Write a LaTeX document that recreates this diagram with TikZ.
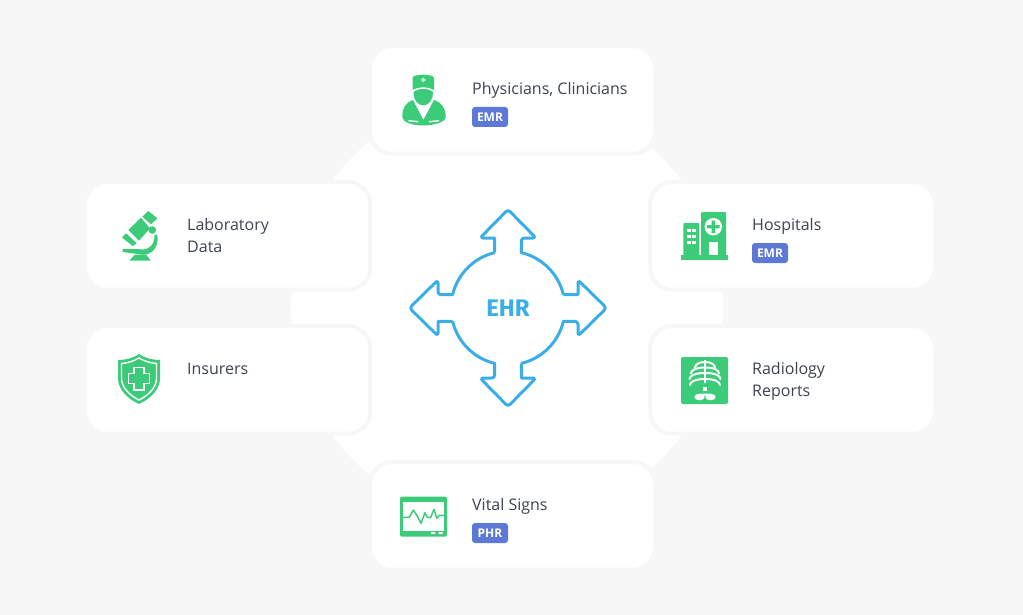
\documentclass[tikz,border=0pt]{standalone}
\usepackage{fontspec}
\setmainfont{Open Sans}
\newfontfamily\ehrfont{Fira Sans}
\definecolor{pagebg}{HTML}{F7F7F7}
\definecolor{ehrblue}{HTML}{3BAEE8}
\definecolor{icongreen}{HTML}{3CCB78}
\definecolor{badgeblue}{HTML}{5E78D6}
\definecolor{inktext}{HTML}{3D4450}

\begin{document}
\begin{tikzpicture}[x=1pt,y=-1pt,
      card/.style={draw=pagebg,fill=white,line width=4pt,rounded corners=22pt,minimum width=285pt,minimum height=107.7pt,inner sep=0pt},
      cardtext/.style={anchor=base west,inner sep=0pt,text=inktext,font=\fontsize{16}{22}\selectfont},
      badge/.style={fill=badgeblue,rounded corners=3pt,minimum width=36pt,minimum height=20pt,inner sep=0pt,text=white,font=\fontsize{12}{14}\bfseries\selectfont},
      ehrline/.style={draw=ehrblue,line width=3pt,line join=round},
      icon/.style={fill=icongreen},
      gap/.style={fill=white},
      gapline/.style={draw=white,line width=1.4pt},
      ribline/.style={draw=white,line width=2pt,line cap=round},
      pulse/.style={draw=icongreen,line width=1.5pt,line join=round}]
    \useasboundingbox (0,0) rectangle (1023,615);
    \fill[pagebg] (0,0) rectangle (1023,615);
    \fill[white] (507,308) circle (216pt);

    % cards
    \node[card] (physicians) at (512.5,99.85) {};
    \node[card] (vitals)     at (512.5,515.85) {};
    \node[card] (laboratory) at (227.5,235.85) {};
    \node[card] (insurers)   at (227.5,379.85) {};
    \node[card] (hospitals)  at (792.5,235.85) {};
    \node[card] (radiology)  at (792.5,379.85) {};

    % card texts
    \node[cardtext] (physicianstext) at (472,94.6) {Physicians, Clinicians};
    \node[cardtext] (vitalstext)     at (472,510) {Vital Signs};
    \node[cardtext] (labtext)        at (187,230) {Laboratory};
    \node[cardtext] (labtexttwo)     at (187,252) {Data};
    \node[cardtext] (insurerstext)   at (187,374) {Insurers};
    \node[cardtext] (hospitalstext)  at (752,230) {Hospitals};
    \node[cardtext] (radiologytext)  at (752,374) {Radiology};
    \node[cardtext] (reportstext)    at (752,396) {Reports};

    % badges
    \node[badge] (physiciansbadge) at (490,117) {EMR};
    \node[badge] (hospitalsbadge)  at (770,253) {EMR};
    \node[badge] (vitalsbadge)     at (490,533) {PHR};

    % centre arrows, one quarter per turn
    \begin{scope}[shift={(508,308)}]
      \foreach \ang in {0,90,180,270} {
        \draw[ehrline,rotate=\ang] (-13.3,-55.4) -- (-13.3,-70) [rounded corners=3pt] -- (-28,-70) -- (0,-98.5) -- (28,-70) -- (13.3,-70) [sharp corners] -- (13.3,-55.4) .. controls (34.1,-50.4) and (50.4,-34.1) .. (55.4,-13.3);
      }
    \end{scope}
    \node[text=ehrblue,inner sep=0pt,font=\ehrfont\fontsize{24}{26}\bfseries\selectfont] (ehr) at (508,308.5) {EHR};

    % doctor
    \fill[icon] (412.5,90) -- (412.5,78.5) .. controls (412.5,76) and (415,75) .. (423.3,74.7) .. controls (431,75) and (434,76) .. (434,78.5) -- (434,90) .. controls (428,86.5) and (418,86.5) .. (412.5,90) -- cycle;
    \fill[icon] (413.5,92) .. controls (418,88) and (429,88) .. (433,92) .. controls (433.5,99) and (429,105.5) .. (423.3,105.5) .. controls (417.5,105.5) and (413,99) .. (413.5,92) -- cycle;
    \fill[icon] (413,100) -- (423.3,120) -- (434,100) .. controls (441,102) and (445.7,108) .. (445.7,117) .. controls (445.7,122) and (434,125.5) .. (423.3,125.5) .. controls (412,125.5) and (402.3,122) .. (402.3,117) .. controls (402.3,108) and (406,102) .. (413,100) -- cycle;
    \fill[gap] (421.1,79.3) rectangle (425.5,80.7) (422.6,77.8) rectangle (424,82.2);
    \draw[gapline] (408.5,120.7) -- (418,121.7) (429,121.7) -- (439,120.7);

    % microscope
    \fill[icon] (148.3,211) -- (157.3,218.3) -- (151,224.3) -- (142.3,216.7) -- cycle;
    \fill[icon] (141,217.7) -- (150,228.3) -- (139,240.7) -- (128.3,230) -- cycle;
    \fill[icon] (126,233.3) -- (136.7,243.3) -- (132.7,246) -- (122,237.3) -- cycle;
    \fill[icon] (152.3,230) circle (3.8pt);
    \fill[icon] (154.5,235) -- (157,234.5) .. controls (159,242) and (156,251) .. (148,254) .. controls (146,254.8) and (142,254.8) .. (138,254) -- (122.7,252) -- (122.7,249) -- (138,249) .. controls (146,251) and (155,247) .. (154.5,235) -- cycle;
    \fill[icon] (129.3,260.7) -- (135,254.5) -- (146,254.5) -- (150.7,260.7) -- cycle;

    % shield
    \fill[icon] (139,354) .. controls (145,358) and (152,360) .. (160,360) -- (160,378) .. controls (160,390) and (150,399) .. (139,404) .. controls (128,399) and (118,390) .. (118,378) -- (118,360) .. controls (126,360) and (133,358) .. (139,354) -- cycle;
    \draw[gapline] (139,358) .. controls (144,361) and (150,363) .. (156.5,363.5) -- (156.5,378) .. controls (156.5,388) and (148,395.5) .. (139,400) .. controls (130,395.5) and (121.5,388) .. (121.5,378) -- (121.5,363.5) .. controls (128,363) and (134,361) .. (139,358) -- cycle;
    \draw[gapline] (134,367.5) -- (144,367.5) -- (144,373.5) -- (149.5,373.5) -- (149.5,383.5) -- (144,383.5) -- (144,390) -- (134,390) -- (134,383.5) -- (128.5,383.5) -- (128.5,373.5) -- (134,373.5) -- cycle;

    % hospital
    \fill[icon] (681,255) rectangle (728,260);
    \fill[icon,rounded corners=1pt] (683.3,255.5) -- (683.3,223) -- (699.3,223) -- (699.3,255.5) -- cycle;
    \fill[icon,rounded corners=1pt] (701,255.5) -- (701,212) -- (726,212) -- (726,255.5) -- cycle;
    \fill[gap] (713.3,226.7) circle (8.7pt);
    \fill[icon] (711.7,220.5) rectangle (715,233) (707.2,225) rectangle (719.5,228.4);
    \fill[gap] (709,241.7) rectangle (718.3,255);
    \foreach \wy in {228.7,234.5,240.7} {
      \fill[gap] (687,\wy) rectangle ++(3.7,3.7);
      \fill[gap] (691.9,\wy) rectangle ++(3.7,3.7);
    }

    % x-ray
    \fill[icon,rounded corners=2pt] (681,357) rectangle (728,404);
    \fill[gap] (704,360) rectangle (706,383);
    \foreach \ry/\rw in {362/10,367.5/14,373/15.5,379/15} {
      \draw[ribline] (705,\ry) .. controls (705-0.7*\rw,\ry) and (705-\rw,\ry+3) .. (705-\rw,\ry+6);
      \draw[ribline] (705,\ry) .. controls (705+0.7*\rw,\ry) and (705+\rw,\ry+3) .. (705+\rw,\ry+6);
    }
    \fill[gap] (703,386.5) rectangle (707,390.5);
    \fill[gap] (699.5,397) ellipse (5.2pt and 3.3pt) (710.5,397) ellipse (5.2pt and 3.3pt) (700,393.7) rectangle (710,395.5);

    % monitor
    \fill[icon,rounded corners=2pt] (400,496.7) rectangle (447,536.7);
    \fill[gap] (403,501.7) rectangle (444,530.5);
    \fill[gap] (431,532) rectangle (435,534) (438.7,532) rectangle (442.7,534);
    \draw[pulse] (403,517.3) -- (409.3,517.3) -- (413.3,510) -- (416.7,515) -- (421,523.3) -- (425,512.7) -- (427.3,517.3) -- (430.7,517.3) -- (434,509.3) -- (436.7,518.3) -- (439.3,515.3) -- (444,515.3);
  \end{tikzpicture}
\end{document}
